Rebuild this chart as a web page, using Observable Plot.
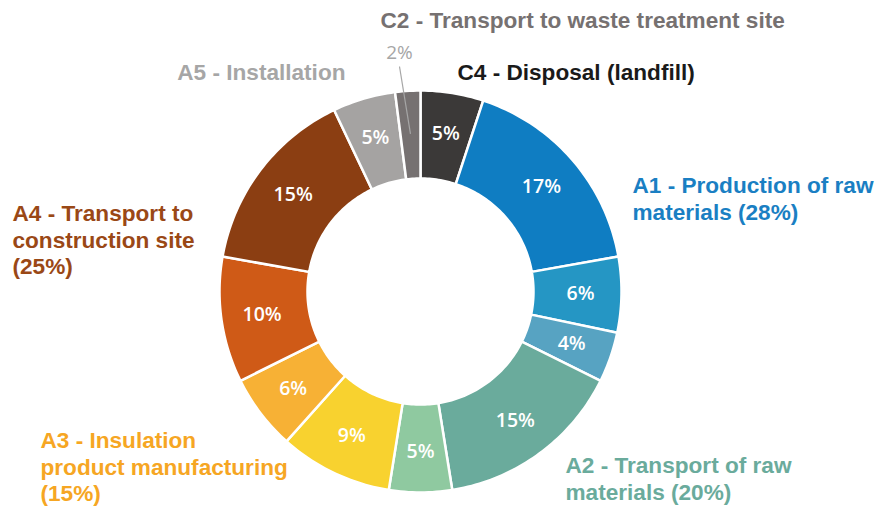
<!DOCTYPE html>
<html><head><meta charset="utf-8">
<script src="https://cdn.jsdelivr.net/npm/d3@7"></script>
<script src="https://cdn.jsdelivr.net/npm/@observablehq/plot@0.6"></script>
<style>body{margin:0;background:#fff} #chart svg{display:block}</style>
</head><body><div id="chart"></div>
<script>
// ---- data ----
const sliceStage = ["C4","A1","A1","A1","A2","A2","A3","A3","A4","A4","A5","C2"];
const sliceShare = [5,17,6,4,15,5,9,6,10,15,5,2];
const sliceLabel = ["5%","17%","6%","4%","15%","5%","9%","6%","10%","15%","5%","2%"];
const stageCodes = ["A1","A2","A3","A4","A5","C2","C4"];
const stageText = [
  "A1 - Production of raw\nmaterials (28%)",
  "A2 - Transport of raw\nmaterials (20%)",
  "A3 - Insulation\nproduct manufacturing\n(15%)",
  "A4 - Transport to\nconstruction site\n(25%)",
  "A5 - Installation",
  "C2 - Transport to waste treatment site",
  "C4 - Disposal (landfill)"
];

// ---- styles / layout ----
const sliceColors = ["#3b3938","#0f7dc2","#2596c4","#57a3c2","#6aab9c","#8fc9a0","#f8d22f","#f7b135","#cf5a17","#8b3e12","#a5a3a2","#767171"];
const stageColors = {A1:"#1a7fc3",A2:"#6aab9c",A3:"#f6a623",A4:"#9a4816",A5:"#a6a6a6",C2:"#767171",C4:"#1a1a1a"};
const stagePos = {
  A1:{x:632,y:186,a:"start"}, A2:{x:565,y:466,a:"start"}, A3:{x:40,y:441,a:"start"},
  A4:{x:12,y:214,a:"start"}, A5:{x:345,y:73,a:"end"}, C2:{x:380,y:21,a:"start"}, C4:{x:457,y:73,a:"start"}
};
const W = 875, H = 506, cx = 420, cy = 291, R = 201, r = 113;

const total = d3.sum(sliceShare);
let cum = 0;
const slices = sliceShare.map((v, i) => {
  const a0 = cum / total * 2 * Math.PI; cum += v;
  const a1 = cum / total * 2 * Math.PI;
  return {i, stage: sliceStage[i], value: v, label: sliceLabel[i], a0, a1, color: sliceColors[i]};
});
const pt = (a, rad) => ({x: cx + rad * Math.sin(a), y: cy - rad * Math.cos(a)});
const poly = [];
for (const s of slices) {
  const n = Math.max(4, Math.ceil((s.a1 - s.a0) / 0.02));
  const pts = [];
  for (let k = 0; k <= n; k++) pts.push(pt(s.a0 + (s.a1 - s.a0) * k / n, R));
  for (let k = n; k >= 0; k--) pts.push(pt(s.a0 + (s.a1 - s.a0) * k / n, r));
  pts.push(pts[0]);
  for (const p of pts) poly.push({key: s.i, color: s.color, x: p.x, y: p.y});
}
const inner = slices.filter(s => s.value > 2).map(s => {
  const p = pt((s.a0 + s.a1) / 2, (R + r) / 2 + 3);
  return {...s, x: p.x, y: p.y};
});
const small = slices.filter(s => s.value <= 2).map(s => {
  const p = pt((s.a0 + s.a1) / 2, 158);
  return {...s, x1: 399, y1: 66, x2: p.x, y2: p.y, lx: 399, ly: 52};
});
const stages = stageCodes.map((c, i) => ({code: c, text: stageText[i], ...stagePos[c], color: stageColors[c]}));

const labelOpts = {
  x: "x", y: "y", text: "text", fill: "color", lineAnchor: "top", dy: -12,
  fontSize: 22.6, fontWeight: "bold", fontFamily: "Liberation Sans, Arial, sans-serif", lineHeight: 1.17
};
const chart = Plot.plot({
  width: W, height: H, margin: 0,
  x: {domain: [0, W], range: [0, W], axis: null},
  y: {domain: [0, H], range: [0, H], axis: null},
  color: {type: "identity"},
  style: {background: "#fff"},
  marks: [
    Plot.line(poly, {x: "x", y: "y", z: "key", fill: "color", stroke: "#fff", strokeWidth: 2.5, curve: "linear"}),
    Plot.text(inner, {x: "x", y: "y", text: "label", fill: "#fff", fontSize: 19.5, fontWeight: 600, fontFamily: "Open Sans"}),
    Plot.link(small, {x1: "x1", y1: "y1", x2: "x2", y2: "y2", stroke: "#a6a6a6", strokeWidth: 1.2}),
    Plot.text(small, {x: "lx", y: "ly", text: "label", fill: "#a6a6a6", fontSize: 19, fontFamily: "Open Sans"}),
    Plot.text(stages.filter(d => d.a === "start"), {...labelOpts, textAnchor: "start"}),
    Plot.text(stages.filter(d => d.a === "end"), {...labelOpts, textAnchor: "end"})
  ]
});
document.getElementById("chart").appendChild(chart);
</script></body></html>
